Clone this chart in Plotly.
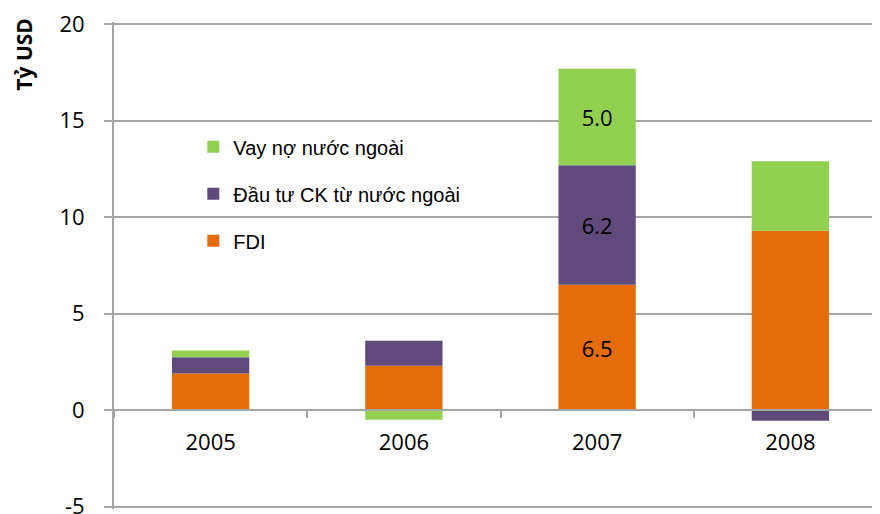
"""Vietnam capital inflows 2005-2008, stacked bars (Tỷ USD)."""

import plotly.graph_objects as go

YEARS = ["2005", "2006", "2007", "2008"]
FDI = [1.9, 2.3, 6.5, 9.3]
PORTFOLIO = [0.85, 1.3, 6.2, -0.55]
FOREIGN_LOANS = [0.35, -0.5, 5.0, 3.6]

# Only the 2007 column carries value labels in the source chart.
LABELLED_YEAR = "2007"

Y_TICKS = [-5, 0, 5, 10, 15, 20]
Y_TICK_TEXT = ["-5", "0", "5", "10", "15", "20"]

# (name, values, colour, legend rank) - stacked bottom to top, legend top to bottom
SERIES = [
    ("FDI", FDI, "#E46C0A", 3),
    ("Đầu tư CK từ nước ngoài", PORTFOLIO, "#604A7B", 2),
    ("Vay nợ nước ngoài", FOREIGN_LOANS, "#92D050", 1),
]

TICK_FONT = "Open Sans, Noto Sans, sans-serif"
GRID = "#A6A6A6"


def _labels(values):
    return [f"{v:.1f}" if year == LABELLED_YEAR else "" for year, v in zip(YEARS, values)]


fig = go.Figure()
for i, (name, values, color, rank) in enumerate(SERIES):
    fig.add_bar(
        x=YEARS,
        y=values,
        name=name,
        legendgroup=str(i),
        legendrank=rank,
        marker={"color": color, "line": {"width": 0}},
        text=_labels(values),
        textposition="inside",
        insidetextanchor="middle",
        textangle=0,
        textfont={"family": TICK_FONT, "size": 22, "color": "#000000"},
        hoverinfo="x+y+name",
    )

# The page body keeps its default 8px margin, so the figure is offset by it.
# The plot runs slightly past the right edge like the source chart does.
# The y range is padded a little so plotly keeps the 20 and -5 gridlines.
fig.update_layout(
    width=879,
    height=506,
    barmode="relative",
    bargap=0.6,
    plot_bgcolor="white",
    paper_bgcolor="white",
    margin={"l": 106, "r": 0, "t": 14, "b": 5, "autoexpand": False},
    showlegend=True,
    legend={
        "x": 0.1026,
        "xanchor": "left",
        "y": 0.784,
        "yanchor": "top",
        "traceorder": "grouped",
        "tracegroupgap": 18,
        "itemwidth": 30,
        "bgcolor": "rgba(0,0,0,0)",
        "font": {"family": "Liberation Sans, Arial, sans-serif", "size": 20, "color": "#000000"},
    },
    xaxis={
        "anchor": "free",
        "position": 5.12 / 25.24,
        "automargin": False,
        "showline": True,
        "linecolor": GRID,
        "linewidth": 2,
        "ticks": "outside",
        "tickson": "boundaries",
        "ticklen": 7,
        "tickcolor": GRID,
        "tickwidth": 2,
        "showgrid": False,
        "ticklabelstandoff": 12,
        "tickfont": {"family": TICK_FONT, "size": 22, "color": "#000000"},
    },
    yaxis={
        "range": [-5.12, 20.12],
        "tickvals": Y_TICKS,
        "ticktext": Y_TICK_TEXT,
        "automargin": False,
        "showline": True,
        "linecolor": GRID,
        "linewidth": 2,
        "ticks": "outside",
        "ticklen": 8,
        "tickcolor": GRID,
        "tickwidth": 2,
        "showgrid": True,
        "gridcolor": GRID,
        "gridwidth": 2,
        "zeroline": False,
        "ticklabelstandoff": 15,
        "ticklabeloverflow": "allow",
        "tickfont": {"family": TICK_FONT, "size": 22, "color": "#000000"},
    },
    annotations=[
        {
            "text": "<b>Tỷ USD</b>",
            "textangle": -90,
            "xref": "paper",
            "yref": "paper",
            "x": -0.1164,
            "y": 1.012,
            "xanchor": "center",
            "yanchor": "top",
            "showarrow": False,
            "font": {"family": TICK_FONT, "size": 21, "color": "#000000"},
        }
    ],
)

fig.write_html("out.html")
